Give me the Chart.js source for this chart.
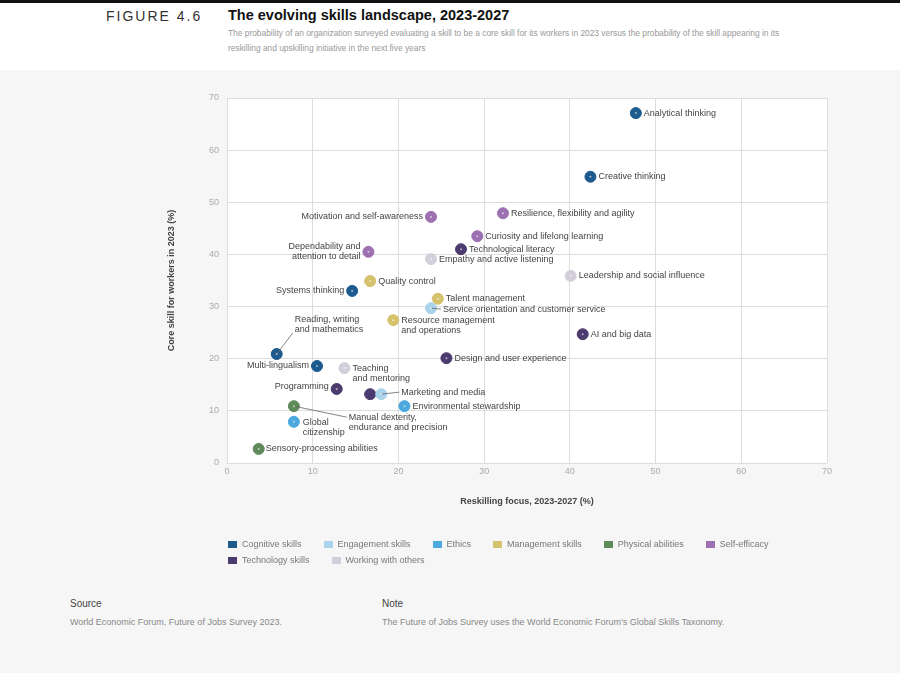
<!DOCTYPE html>
<html><head><meta charset="utf-8">
<script src="https://cdn.jsdelivr.net/npm/chart.js@4"></script>
<style>
body{margin:0;width:900px;height:673px;background:#fff;font-family:"Liberation Sans",Arial,sans-serif;position:relative;overflow:hidden}
#bar{position:absolute;top:0;left:0;width:900px;height:3px;background:#111}
#fig{position:absolute;left:106px;top:8px;font-size:14px;letter-spacing:2px;color:#333}
#ttl{position:absolute;left:228px;top:7px;font-size:14.5px;font-weight:bold;color:#111}
#sub{position:absolute;left:228px;top:26px;width:585px;font-size:8.4px;line-height:15px;color:#999}
#panel{position:absolute;top:70px;left:0;width:900px;height:603px;background:#f6f6f6}
#wrap{position:absolute;top:70px;left:0;width:900px;height:520px}
#legend{position:absolute;left:228px;top:539px;width:590px;font-size:9px;color:#777}
#legend span{display:inline-block;margin:0 22px 6px 0}
#legend i{display:inline-block;width:9px;height:7px;margin-right:5px;vertical-align:middle}
.h{position:absolute;top:598px;font-size:10px;color:#444}
.t{position:absolute;top:617px;font-size:9px;color:#888}
</style></head><body>
<div id="bar"></div>
<div id="fig">FIGURE 4.6</div>
<div id="ttl">The evolving skills landscape, 2023-2027</div>
<div id="sub">The probability of an organization surveyed evaluating a skill to be a core skill for its workers in 2023 versus the probability of the skill appearing in its reskilling and upskilling initiative in the next five years</div>
<div id="panel"></div>
<div id="wrap"><canvas id="c"></canvas></div>
<div id="legend"></div>
<div class="h" style="left:70px">Source</div>
<div class="t" style="left:70px">World Economic Forum, Future of Jobs Survey 2023.</div>
<div class="h" style="left:382px">Note</div>
<div class="t" style="left:382px">The Future of Jobs Survey uses the World Economic Forum's Global Skills Taxonomy.</div>
<script>
const groups = ['Cognitive skills','Engagement skills','Ethics','Management skills','Physical abilities','Self-efficacy','Technology skills','Working with others'];
const groupColors = ['#1d5a8e','#aad4ec','#4ba9dd','#d5c26c','#5f8b5b','#9d70b1','#4b3b6f','#d2cfda'];

const skills = ['Analytical thinking','Creative thinking','Motivation and self-awareness','Resilience, flexibility and agility',
  'Curiosity and lifelong learning','Technological literacy','Dependability and\nattention to detail','Empathy and active listening',
  'Leadership and social influence','Quality control','Systems thinking','Talent management',
  'Service orientation and customer service','Resource management\nand operations','AI and big data','Reading, writing\nand mathematics',
  'Design and user experience','Multi-lingualism','Teaching\nand mentoring','Programming','','Marketing and media',
  'Environmental stewardship','Manual dexterity,\nendurance and precision','Global\ncitizenship','Sensory-processing abilities'];
const reskilling = [47.7,42.4,23.8,32.2,29.2,27.3,16.5,23.8,40.1,16.7,14.6,24.6,23.8,19.4,41.5,5.8,25.6,10.5,13.7,12.8,16.7,18.0,20.7,7.8,7.8,3.7];
const coreSkill  = [67.1,54.9,47.2,47.9,43.5,41.0,40.5,39.1,35.9,34.9,33.0,31.5,29.7,27.4,24.7,20.9,20.1,18.6,18.2,14.2,13.2,13.2,10.9,10.9,7.9,2.7];
const skillGroup = [0,0,5,5,5,6,5,7,7,3,0,3,1,3,6,0,6,0,7,6,6,1,2,4,2,4];

// label placement: [dx, dy, align, leader]
const labelPos = [
  [8,0,'left'],[8,0,'left'],[-8,0,'right'],[8,0,'left'],[8,0,'left'],[8,0,'left'],[-8,0,'right'],[8,0,'left'],
  [8,0,'left'],[8,0,'left'],[-8,0,'right'],[8,0,'left'],[12,1,'left',1],[8,5,'left'],[8,0,'left'],[18,-30,'left',1],
  [8,0,'left'],[-8,0,'right'],[8,5,'left'],[-8,-2,'right'],null,[20,-2,'left',1],[8,0,'left'],[55,16,'left',1],[9,6,'left'],[7,0,'left']
];

const points = reskilling.map((x,i)=>({x, y: coreSkill[i]}));

const labelPlugin = {
  id:'labels',
  afterDatasetsDraw(chart){
    const ctx = chart.ctx, meta = chart.getDatasetMeta(0);
    ctx.save();
    ctx.font = '9px "Liberation Sans", Arial';
    ctx.fillStyle = '#444';
    meta.data.forEach((el,i)=>{
      const p = labelPos[i]; if(!p || !skills[i]) return;
      const lines = skills[i].split('\n');
      const tx = el.x+p[0], ty = el.y+p[1] - (lines.length-1)*5;
      if(p[3]){
        ctx.strokeStyle='#666'; ctx.lineWidth=0.8; ctx.beginPath();
        ctx.moveTo(el.x,el.y); ctx.lineTo(tx-2, ty+(p[1]<-10?(lines.length-1)*10+4:0)); ctx.stroke();
      }
      ctx.textAlign = p[2]; ctx.textBaseline='middle';
      lines.forEach((l,k)=>ctx.fillText(l, tx, ty+k*10));
      ctx.fillStyle='rgba(255,255,255,0.6)'; ctx.beginPath(); ctx.arc(el.x,el.y,1,0,7); ctx.fill(); ctx.fillStyle='#444';
    });
    ctx.restore();
  }
};
const bgPlugin = {
  id:'bg',
  beforeDraw(chart){
    const a = chart.chartArea, ctx = chart.ctx;
    ctx.save(); ctx.fillStyle='#fff'; ctx.fillRect(a.left,a.top,a.right-a.left,a.bottom-a.top); ctx.restore();
  }
};

new Chart(document.getElementById('c'), {
  type:'scatter',
  data:{datasets:[{
    data: points,
    backgroundColor: skillGroup.map(g=>groupColors[g]),
    borderColor: skillGroup.map(g=>groupColors[g]),
    pointRadius: 5.5, pointHoverRadius: 5.5
  }]},
  options:{
    responsive:true, maintainAspectRatio:false, animation:false,
    layout:{padding:{left:162,right:73,top:28,bottom:79}},
    plugins:{legend:{display:false},tooltip:{enabled:false}},
    scales:{
      x:{min:0,max:70,ticks:{stepSize:10,color:'#aaa',font:{size:9}},grid:{color:'#ddd',drawTicks:false},border:{display:false},
         title:{display:true,text:'Reskilling focus, 2023-2027 (%)',color:'#444',font:{size:9,weight:'bold'}},
         afterFit(s){s.height=48;}},
      y:{min:0,max:70,ticks:{stepSize:10,color:'#aaa',font:{size:9},padding:8},grid:{color:'#ddd',drawTicks:false},border:{display:false},
         title:{display:true,text:'Core skill for workers in 2023 (%)',color:'#444',font:{size:9,weight:'bold'}},
         afterFit(s){s.width=65;}}
    }
  },
  plugins:[bgPlugin,labelPlugin]
});

document.getElementById('legend').innerHTML = groups.map((g,i)=>
  `<span><i style="background:${groupColors[i]}"></i>${g}</span>`).join('');
</script>
</body></html>
